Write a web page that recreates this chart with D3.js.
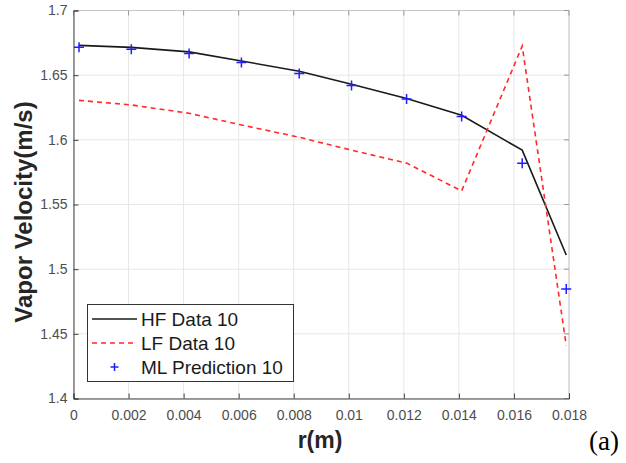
<!DOCTYPE html>
<html><head><meta charset="utf-8">
<script src="https://cdn.jsdelivr.net/npm/d3@7"></script>
<style>body{margin:0;background:#fff;}svg{display:block;}</style>
</head><body>
<svg id="c" width="626" height="463"></svg>
<script>
const rVals = [0.0002, 0.0021, 0.0042, 0.0061, 0.0082, 0.0101, 0.0121, 0.0141, 0.0163, 0.0179];
const hfData = [1.673, 1.6715, 1.668, 1.661, 1.653, 1.643, 1.632, 1.619, 1.592, 1.511];
const lfData = [1.6305, 1.627, 1.6205, 1.6115, 1.602, 1.592, 1.582, 1.5605, 1.6725, 1.441];
const mlData = [1.6715, 1.670, 1.6668, 1.6598, 1.6512, 1.642, 1.6315, 1.618, 1.5818, 1.4847];
const xTicks = [0, 0.002, 0.004, 0.006, 0.008, 0.01, 0.012, 0.014, 0.016, 0.018];
const yTicks = [1.4, 1.45, 1.5, 1.55, 1.6, 1.65, 1.7];
const legendLabels = ["HF Data 10", "LF Data 10", "ML Prediction 10"];

const svg = d3.select("#c");
const L = 73.5, R = 569, T = 10.5, B = 398.5;
const x = d3.scaleLinear().domain([0, 0.018]).range([L, R]);
const y = d3.scaleLinear().domain([1.4, 1.7]).range([B, T]);
const sans = "Liberation Sans, Arial, sans-serif";

// grid
const g = svg.append("g");
g.selectAll(".gx").data(xTicks).join("line")
  .attr("x1", d => x(d)).attr("x2", d => x(d)).attr("y1", T).attr("y2", B)
  .attr("stroke", "#e6e6e6").attr("stroke-width", 1);
g.selectAll(".gy").data(yTicks).join("line")
  .attr("y1", d => y(d)).attr("y2", d => y(d)).attr("x1", L).attr("x2", R)
  .attr("stroke", "#e6e6e6").attr("stroke-width", 1);

// top/right box
svg.append("line").attr("x1", L).attr("x2", R).attr("y1", T).attr("y2", T).attr("stroke", "#c8c8c8");
svg.append("line").attr("x1", R).attr("x2", R).attr("y1", T).attr("y2", B).attr("stroke", "#c8c8c8");
svg.selectAll(".tt").data(xTicks).join("line")
  .attr("x1", d => x(d)).attr("x2", d => x(d)).attr("y1", T).attr("y2", T + 5).attr("stroke", "#999");
svg.selectAll(".rt").data(yTicks).join("line")
  .attr("y1", d => y(d)).attr("y2", d => y(d)).attr("x1", R).attr("x2", R - 5).attr("stroke", "#999");

// axes
const xAxis = d3.axisBottom(x).tickValues(xTicks).tickSize(-5).tickPadding(12).tickFormat(d => String(+d.toFixed(3)));
const yAxis = d3.axisLeft(y).tickValues(yTicks).tickSize(-5).tickPadding(6).tickFormat(d => String(+d.toFixed(2)));
const xa = svg.append("g").attr("transform", `translate(0,${B})`).call(xAxis);
const ya = svg.append("g").attr("transform", `translate(${L},0)`).call(yAxis);
[xa, ya].forEach(a => {
  a.select(".domain").attr("stroke", "#404040");
  a.selectAll(".tick line").attr("stroke", "#404040");
  a.selectAll("text").attr("fill", "#4d4d4d").style("font-family", sans).style("font-size", "14px");
});

// lines
const line = d3.line().x(d => x(d[0])).y(d => y(d[1]));
const hf = rVals.map((r, i) => [r, hfData[i]]);
const lf = rVals.map((r, i) => [r, lfData[i]]);
const ml = rVals.map((r, i) => [r, mlData[i]]);
svg.append("path").datum(hf).attr("d", line).attr("fill", "none").attr("stroke", "#1a1a1a").attr("stroke-width", 1.6);
svg.append("path").datum(lf).attr("d", line).attr("fill", "none").attr("stroke", "#ff2a2a").attr("stroke-width", 1.6).attr("stroke-dasharray", "5,4");
svg.selectAll(".ml").data(ml).join("path")
  .attr("d", d => `M${x(d[0]) - 5},${y(d[1])}H${x(d[0]) + 5}M${x(d[0])},${y(d[1]) - 5}V${y(d[1]) + 5}`)
  .attr("stroke", "#1f1fff").attr("stroke-width", 1.5).attr("fill", "none");

// legend
const lg = svg.append("g");
lg.append("rect").attr("x", 87.5).attr("y", 304.5).attr("width", 206).attr("height", 77)
  .attr("fill", "#fff").attr("stroke", "#333").attr("stroke-width", 1);
const rowY = [319, 343, 367];
lg.append("line").attr("x1", 92).attr("x2", 137).attr("y1", rowY[0]).attr("y2", rowY[0]).attr("stroke", "#1a1a1a").attr("stroke-width", 1.6);
lg.append("line").attr("x1", 92).attr("x2", 137).attr("y1", rowY[1]).attr("y2", rowY[1]).attr("stroke", "#ff2a2a").attr("stroke-width", 1.6).attr("stroke-dasharray", "5,4");
lg.append("path").attr("d", `M${114.5 - 4},${rowY[2]}H${114.5 + 4}M114.5,${rowY[2] - 4}V${rowY[2] + 4}`).attr("stroke", "#1f1fff").attr("stroke-width", 1.5);
lg.selectAll("text").data(legendLabels).join("text")
  .attr("x", 141).attr("y", (d, i) => rowY[i] + 7)
  .attr("fill", "#1a1a1a").style("font-family", sans).style("font-size", "19px")
  .text(d => d);

// axis labels
svg.append("text").attr("transform", `translate(32,212) rotate(-90)`).attr("text-anchor", "middle")
  .style("font-family", sans).style("font-weight", "bold").style("font-size", "24px").attr("fill", "#262626")
  .text("Vapor Velocity(m/s)");
svg.append("text").attr("x", 320).attr("y", 448).attr("text-anchor", "middle")
  .style("font-family", sans).style("font-weight", "bold").style("font-size", "23px").attr("fill", "#262626")
  .text("r(m)");
svg.append("text").attr("x", 589).attr("y", 450)
  .style("font-family", "Liberation Serif, Times New Roman, serif").style("font-size", "27px").attr("fill", "#000")
  .text("(a)");
</script>
</body></html>
